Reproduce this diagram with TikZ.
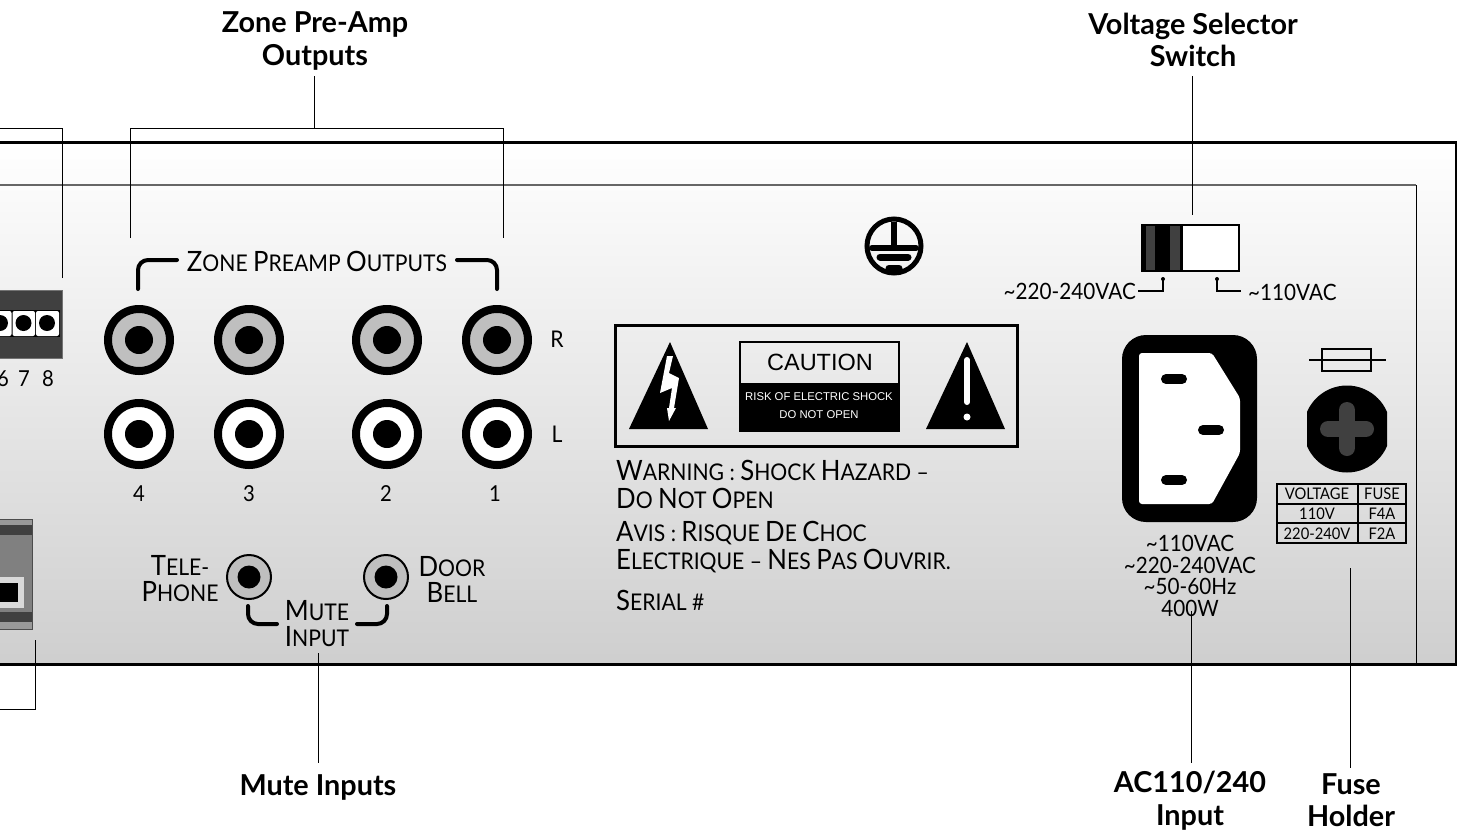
\documentclass[tikz,border=0pt]{standalone}
\usepackage{fontspec}
\setmainfont{Lato}
\newfontfamily\plainfont{Liberation Sans}
\newfontfamily\panelfont[FakeStretch=0.92]{Lato}
\newcommand{\bigc}[1]{{\fontsize{28}{28}\selectfont #1}}
\tikzset{
  heading/.style={font=\fontsize{28.8}{32.5}\selectfont\bfseries,align=center,inner sep=0pt},
  panellabel/.style={font=\panelfont\fontsize{23}{26}\selectfont,inner sep=0pt,align=center},
  numlabel/.style={font=\panelfont\fontsize{22}{22}\selectfont,inner sep=0pt},
  ratinglabel/.style={font=\panelfont\fontsize{22.5}{22}\selectfont,inner sep=0pt},
  tablelabel/.style={font=\panelfont\fontsize{16}{16}\selectfont,inner sep=0pt},
  leader/.style={line width=1pt,black},
  curlybar/.style={line width=4pt,black,line cap=round,rounded corners=10pt},
  jackgray/.style={circle,draw=black,fill=black!25,line width=8pt,minimum size=62pt,inner sep=0pt},
  jackwhite/.style={circle,draw=black,fill=white,line width=8pt,minimum size=62pt,inner sep=0pt},
  jackhole/.style={circle,fill=black,minimum size=28pt,inner sep=0pt},
  mutejack/.style={circle,draw=black,fill=black!25,line width=2pt,minimum size=44pt,inner sep=0pt},
  mutehole/.style={circle,fill=black,minimum size=23pt,inner sep=0pt},
  pinslot/.style={line width=10pt,black,line cap=round},
}
\begin{document}
\begin{tikzpicture}[x=1pt,y=-1pt]
  \useasboundingbox (0,0) rectangle (1457,831);
  % back panel
  \shade[top color=white,bottom color=black!19] (0,142) rectangle (1456,664);
  \draw[line width=1.2pt,black!60] (0,185) -- (1416,185);
  \draw[line width=1pt,black] (1416,185) -- (1416,664);
  \draw[line width=3pt,black] (0,142) -- (1456,142) -- (1456,664) -- (0,664);
  % leaders at the top
  \coordinate (termtop) at (62,278);
  \coordinate (termcorner) at (62,128);
  \coordinate (termend) at (0,128);
  \coordinate (zoneleft) at (130,238);
  \coordinate (zoneright) at (503,238);
  \coordinate (zonecornerl) at (130,128);
  \coordinate (zonecornerr) at (503,128);
  \coordinate (zonetee) at (314,128);
  \coordinate (zoneend) at (314,76);
  \coordinate (switchtop) at (1192,76);
  \coordinate (switchend) at (1192,215);
  \node[heading] (zonehead) at (315,41) {Zone Pre-Amp\\Outputs};
  \node[heading] (switchhead) at (1193,40) {Voltage Selector\\Switch};
  \draw[leader] (termtop) -- (termcorner) -- (termend);
  \draw[leader] (zoneleft) -- (zonecornerl) -- (zonecornerr) -- (zoneright);
  \draw[leader] (zonetee) -- (zoneend);
  \draw[leader] (switchtop) -- (switchend);
  % terminal block cut by the left edge
  \fill[black!75] (0,290) rectangle (62,358);
  \draw[line width=1pt,black!55] (0,290) -- (62,290) -- (62,358) -- (0,358);
  \fill[black] (0,310) rectangle (60,337);
  \fill[white,rounded corners=2pt] (-5,311) rectangle (11.5,336);
  \fill[white,rounded corners=2pt] (12.5,311) rectangle (35,336);
  \fill[white,rounded corners=2pt] (36,311) rectangle (59,336);
  \fill[black] (0,323) circle (8);
  \fill[black] (23.5,323) circle (8);
  \fill[black] (47,323) circle (8);
  \node[numlabel] (six) at (3,379) {6};
  \node[numlabel] (seven) at (24,379) {7};
  \node[numlabel] (eight) at (48,379) {8};
  % zone outputs
  \node[jackgray] (r4) at (139,340) {}; \node[jackhole] (r4h) at (r4) {};
  \node[jackgray] (r3) at (249,340) {}; \node[jackhole] (r3h) at (r3) {};
  \node[jackgray] (r2) at (387,340) {}; \node[jackhole] (r2h) at (r2) {};
  \node[jackgray] (r1) at (497,340) {}; \node[jackhole] (r1h) at (r1) {};
  \node[jackwhite] (l4) at (139,434) {}; \node[jackhole] (l4h) at (l4) {};
  \node[jackwhite] (l3) at (249,434) {}; \node[jackhole] (l3h) at (l3) {};
  \node[jackwhite] (l2) at (387,434) {}; \node[jackhole] (l2h) at (l2) {};
  \node[jackwhite] (l1) at (497,434) {}; \node[jackhole] (l1h) at (l1) {};
  \node[panellabel] (rlabel) at (557,339) {R};
  \node[panellabel] (llabel) at (557,434) {L};
  \node[numlabel] (four) at (139,494) {4};
  \node[numlabel] (three) at (249,494) {3};
  \node[numlabel] (two) at (386,494) {2};
  \node[numlabel] (one) at (495,494) {1};
  \node[panellabel] (zonetext) at (317,261) {\bigc{Z}ONE \bigc{P}REAMP \bigc{O}UTPUTS};
  \draw[curlybar] (138,289) -- (138,260) -- (177,260);
  \draw[curlybar] (497,289) -- (497,260) -- (457,260);
  % speaker block cut by the left edge
  \fill[black!40] (0,519) rectangle (32,629);
  \fill[black!75] (0,525) rectangle (32,535);
  \fill[black!50] (0,535) rectangle (32,612);
  \fill[black!75] (0,612) rectangle (32,622);
  \draw[line width=0.8pt,black!70] (0,519) -- (32,519) -- (32,629) -- (0,629);
  \fill[black!15] (0,577) -- (24,577) -- (24,608) -- (0,608) -- cycle;
  \fill[black] (0,583) rectangle (18,602);
  \coordinate (blocktop) at (35,640);
  \coordinate (blockcorner) at (35,709);
  \coordinate (blockend) at (0,709);
  \draw[leader] (blocktop) -- (blockcorner) -- (blockend);
  % mute inputs
  \node[mutejack] (phonejack) at (249,577) {}; \node[mutehole] (phonehole) at (phonejack) {};
  \node[mutejack] (belljack) at (386,577) {}; \node[mutehole] (bellhole) at (belljack) {};
  \node[panellabel] (phonetext) at (180,579) {\bigc{T}ELE-\\\bigc{P}HONE};
  \node[panellabel] (belltext) at (452,579) {\bigc{D}OOR\\\bigc{B}ELL};
  \node[panellabel] (mutetext) at (317,624) {\bigc{M}UTE\\\bigc{I}NPUT};
  \draw[curlybar] (248,606) -- (248,624) -- (277,624);
  \draw[curlybar] (387,606) -- (387,624) -- (357,624);
  \coordinate (mutetop) at (318,653);
  \coordinate (muteend) at (318,763);
  \node[heading] (mutehead) at (318,787) {Mute Inputs};
  \draw[leader] (mutetop) -- (muteend);
  % earth mark
  \draw[line width=5pt,black] (894,246) circle (27);
  \draw[line width=6pt,black] (894,222) -- (894,246);
  \draw[line width=6pt,black,line cap=round] (872,248) -- (916,248);
  \draw[line width=7pt,black,line cap=round] (880,257) -- (908,257);
  \draw[line width=7pt,black,line cap=round] (889,268) -- (899,268);
  % caution plate
  \draw[line width=3pt,black] (615,325) rectangle (1017,446);
  \fill[black] (670,342) -- (708,429) -- (629,429) -- cycle;
  \fill[white] (667,356) -- (673,356) -- (669,373) -- (679,378) -- (674,408) -- (676,408) -- (669,421) -- (667,408) -- (669,408) -- (672,388) -- (660,393) -- cycle;
  \fill[black] (967,342) -- (1005,429) -- (926,429) -- cycle;
  \draw[line width=6pt,white,line cap=round] (967,360) -- (967,402);
  \fill[white] (967,417) circle (3.5);
  \draw[line width=2pt,black] (739.5,342) rectangle (898.5,431);
  \fill[black] (739,383) rectangle (899,431);
  \node[font=\plainfont\fontsize{23.5}{23.5}\selectfont,inner sep=0pt] (cautiontext) at (820,362) {CAUTION};
  \node[font=\plainfont\fontsize{11.3}{11.3}\selectfont,text=white,inner sep=0pt] (risktext) at (819,397) {RISK OF ELECTRIC SHOCK};
  \node[font=\plainfont\fontsize{11.3}{11.3}\selectfont,text=white,inner sep=0pt] (opentext) at (819,415) {DO NOT OPEN};
  \node[panellabel,anchor=west] (warnone) at (616,470) {\bigc{W}ARNING : \bigc{S}HOCK \bigc{H}AZARD –};
  \node[panellabel,anchor=west] (warntwo) at (616,498) {\bigc{D}O \bigc{N}OT \bigc{O}PEN};
  \node[panellabel,anchor=west] (avisone) at (616,533) {\bigc{A}VIS : \bigc{R}ISQUE \bigc{D}E \bigc{C}HOC};
  \node[panellabel,anchor=west] (avistwo) at (616,561) {\bigc{E}LECTRIQUE – \bigc{N}ES \bigc{P}AS \bigc{O}UVRIR.};
  \node[panellabel,anchor=west] (serial) at (616,600) {\bigc{S}ERIAL \#};
  % voltage switch
  \fill[black] (1141,224) rectangle (1183,272);
  \fill[black!75] (1146,226) rectangle (1155,270);
  \fill[black!75] (1170,226) rectangle (1180,270);
  \draw[line width=2pt,black,fill=white] (1182,225) rectangle (1238.5,271);
  \draw[line width=2pt,black] (1141,225) -- (1182,225);
  \coordinate (lowdot) at (1163,279);
  \coordinate (highdot) at (1217,279);
  \coordinate (lowend) at (1138,291);
  \coordinate (highend) at (1241,291);
  \fill[black] (lowdot) circle (2);
  \fill[black] (highdot) circle (2);
  \node[ratinglabel,anchor=east] (lowtext) at (1136,291) {\textasciitilde220-240VAC};
  \node[ratinglabel,anchor=west] (hightext) at (1248,292) {\textasciitilde110VAC};
  \draw[line width=2pt,black] (lowdot) |- (lowend);
  \draw[line width=2pt,black] (highdot) |- (highend);
  % mains socket
  \fill[black,rounded corners=24pt] (1122,335) rectangle (1257,522);
  \fill[white,rounded corners=3pt] (1139,353) -- (1212,353) -- (1240,398) -- (1240,453) -- (1212,504) -- (1139,504) -- cycle;
  \draw[pinslot] (1166,379) -- (1182,379);
  \draw[pinslot] (1203,430) -- (1219,430);
  \draw[pinslot] (1166,480) -- (1182,480);
  \node[ratinglabel,align=center,font=\panelfont\fontsize{22.5}{21.7}\selectfont] (ratingtext) at (1190,576) {\textasciitilde110VAC\\\textasciitilde220-240VAC\\\textasciitilde50-60Hz\\400W};
  % fuse
  \draw[line width=2pt,black] (1322,349) rectangle (1371,371);
  \draw[line width=2pt,black] (1309,360) -- (1386,360);
  \begin{scope}
    \clip (1307,380) rectangle (1387,480);
    \fill[black] (1347,429) circle (43.5);
  \end{scope}
  \draw[line width=16pt,black!75,line cap=round] (1347,410) -- (1347,448);
  \draw[line width=16pt,black!75,line cap=round] (1328,429) -- (1366,429);
  % fuse table
  \draw[line width=2pt,black] (1276.5,484) rectangle (1406,543);
  \draw[line width=2pt,black] (1358,484) -- (1358,543);
  \draw[line width=2pt,black] (1276.5,503.5) -- (1406,503.5);
  \draw[line width=2pt,black] (1276.5,523) -- (1406,523);
  \node[tablelabel] (volthead) at (1317,494) {VOLTAGE};
  \node[tablelabel] (fusehead) at (1382,494) {FUSE};
  \node[tablelabel] (voltone) at (1317,514) {110V};
  \node[tablelabel] (fuseone) at (1382,514) {F4A};
  \node[tablelabel] (volttwo) at (1317,534) {220-240V};
  \node[tablelabel] (fusetwo) at (1382,534) {F2A};
  % leaders at the bottom
  \coordinate (actop) at (1191,611);
  \coordinate (acend) at (1191,763);
  \coordinate (fusetop) at (1350,568);
  \coordinate (fuseend) at (1350,768);
  \node[heading] (achead) at (1190,800.5) {AC110/240\\Input};
  \node[heading] (fusetitle) at (1351,800) {Fuse\\Holder};
  \draw[leader] (actop) -- (acend);
  \draw[leader] (fusetop) -- (fuseend);
\end{tikzpicture}
\end{document}
